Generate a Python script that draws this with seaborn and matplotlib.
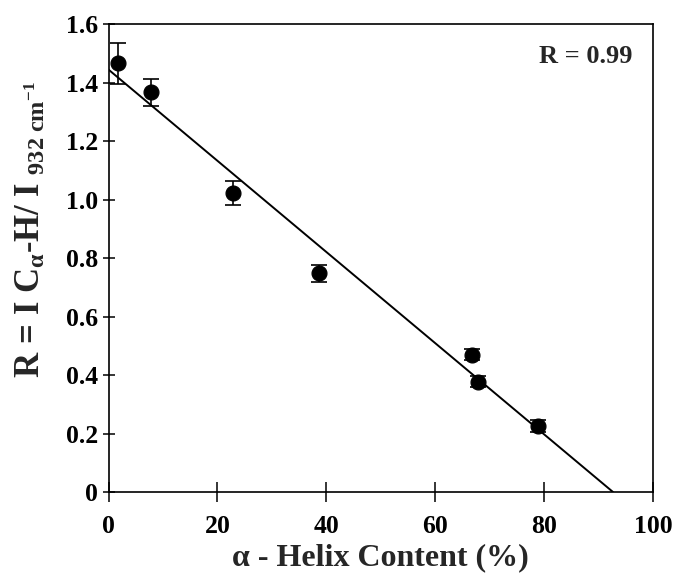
import numpy as np
import pandas as pd
import matplotlib
matplotlib.use("Agg")
import matplotlib.pyplot as plt
import seaborn as sns

# data
helix = [1.8, 7.8, 22.8, 38.6, 66.8, 67.8, 78.9]
ratio = [1.466, 1.367, 1.023, 0.748, 0.470, 0.378, 0.227]
ratio_err = [0.07, 0.047, 0.04, 0.03, 0.02, 0.02, 0.02]
x_ticks = [0, 20, 40, 60, 80, 100]
y_ticks = [0, 0.2, 0.4, 0.6, 0.8, 1.0, 1.2, 1.4, 1.6]
y_tick_labels = ["0", "0.2", "0.4", "0.6", "0.8", "1.0", "1.2", "1.4", "1.6"]
r_text = "R = 0.99"

sns.set_theme(style="ticks")
plt.rcParams["font.family"] = ["Liberation Serif", "DejaVu Serif"]
plt.rcParams["mathtext.fontset"] = "custom"
plt.rcParams["mathtext.rm"] = "Liberation Serif"
plt.rcParams["mathtext.bf"] = "Liberation Serif:bold"
plt.rcParams["mathtext.it"] = "Liberation Serif:italic"

df = pd.DataFrame({"helix": helix, "ratio": ratio, "err": ratio_err})

fig = plt.figure(figsize=(6.83, 5.75), dpi=100)
ax = fig.add_axes([0.1589, 0.1443, 0.7971, 0.8134])

# linear fit line
slope, intercept = np.polyfit(df["helix"], df["ratio"], 1)
x_end = -intercept / slope
fit = pd.DataFrame({"x": [0, x_end], "y": [intercept, intercept + slope * x_end]})
sns.lineplot(data=fit, x="x", y="y", ax=ax, color="black", linewidth=1.4, zorder=2)

ax.errorbar(df["helix"], df["ratio"], yerr=df["err"], fmt="none", ecolor="black",
            elinewidth=1.2, capsize=5.5, capthick=1.2, zorder=3)
sns.scatterplot(data=df, x="helix", y="ratio", ax=ax, color="black", s=115,
                edgecolor="black", zorder=4)

ax.set_xlim(0, 100)
ax.set_ylim(0, 1.6)
ax.set_xticks(x_ticks)
ax.set_yticks(y_ticks)
ax.set_yticklabels(y_tick_labels)
for sp in ax.spines.values():
    sp.set_linewidth(1.2)
    sp.set_color("black")
ax.tick_params(axis="both", direction="inout", colors="black", width=1.1,
               labelsize=18.5)
ax.tick_params(axis="x", length=15, pad=9)
ax.tick_params(axis="y", length=9, pad=3)
for lab in ax.get_xticklabels() + ax.get_yticklabels():
    lab.set_fontweight("bold")

ax.set_xlabel("α - Helix Content (%)", fontsize=23, fontweight="bold", labelpad=4)
ax.set_ylabel(r"$\mathbf{R\,=\,I\ C_{\alpha}\text{-}H/\ I\ _{932\ cm^{-1}}}$",
              fontsize=25)
ax.yaxis.set_label_coords(-0.112, 0.56)
ax.text(0.962, 0.955, r_text, transform=ax.transAxes, ha="right", va="top",
        fontsize=19, fontweight="bold")

fig.savefig("out.png", dpi=100, facecolor="white")
